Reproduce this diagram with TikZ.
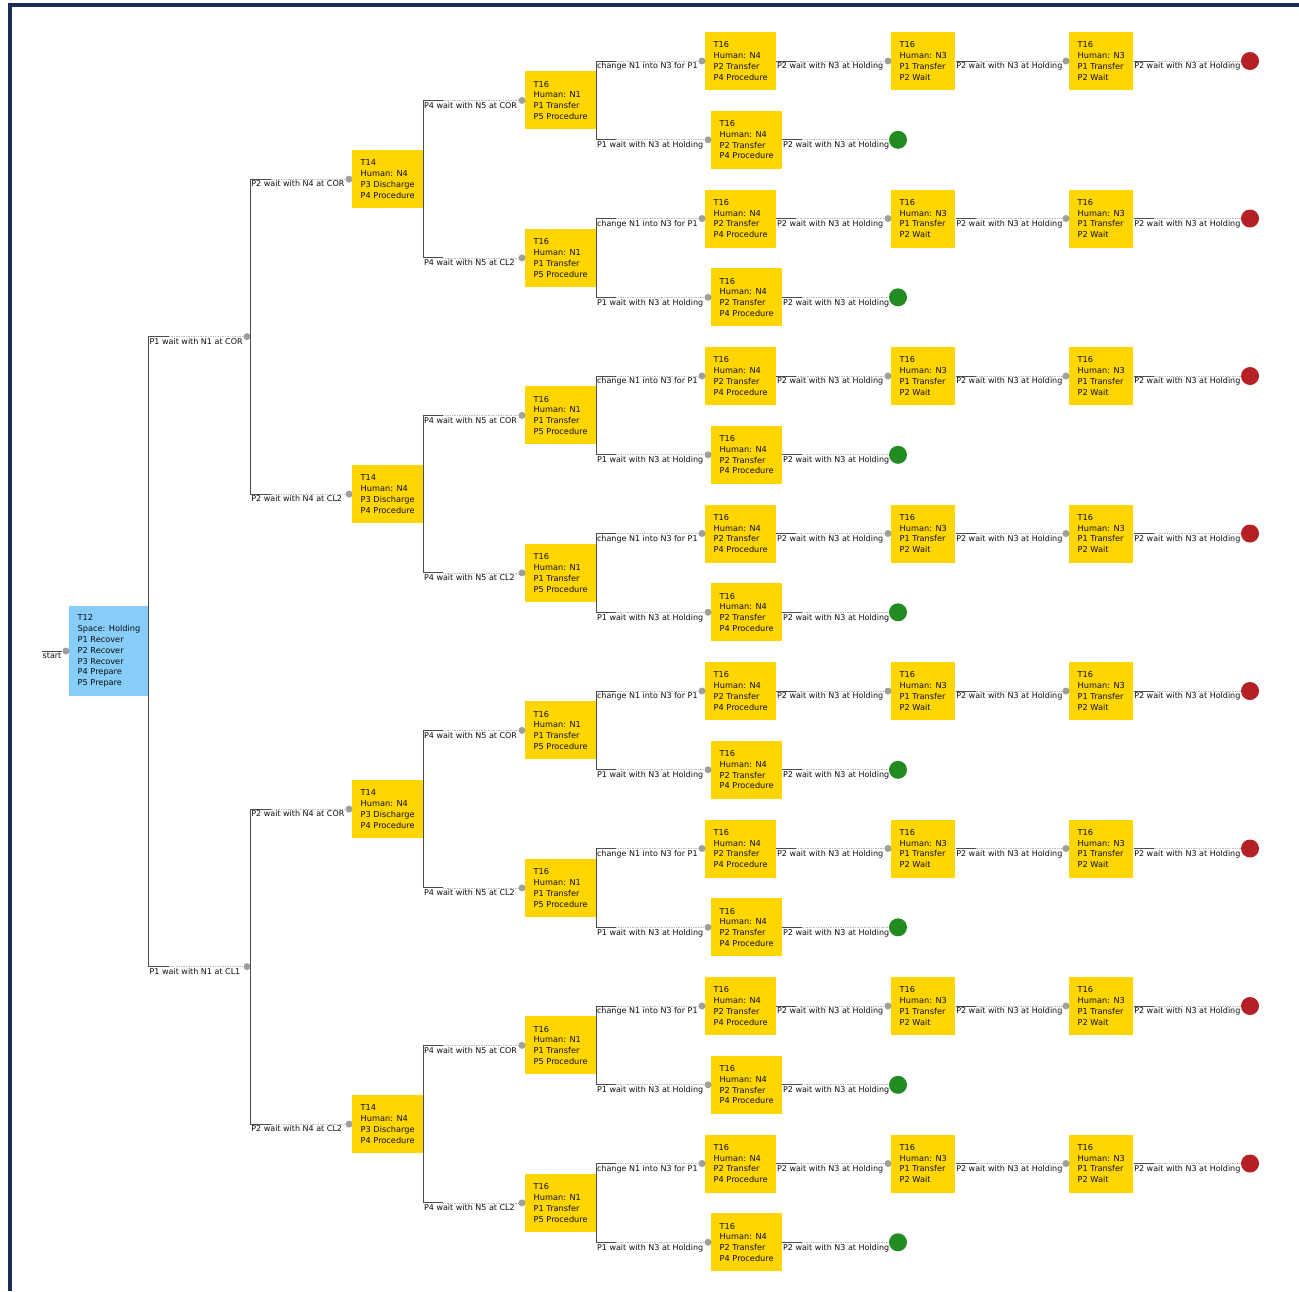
\documentclass[tikz,border=0pt]{standalone}
\usepackage{fontspec}
\setmainfont{DejaVu Sans}
\usetikzlibrary{calc}
\definecolor{taskyellow}{RGB}{255,214,0}
\definecolor{taskblue}{RGB}{135,205,250}
\definecolor{framenavy}{RGB}{27,45,82}
\definecolor{goodgreen}{RGB}{34,139,34}
\definecolor{badred}{RGB}{180,32,36}
\def\branch(#1)(#2)#3{%
  \draw[stub] (#1.east |- #1.center) -- (#1.east |- #2.center) -- ++(20,0) coordinate (stubend);
  \draw[trail] (stubend) -- (#2);
  \node[edgetext] at (#1.east |- #2.center) {#3};}
\tikzset{
  taskbox/.style={fill=taskyellow, anchor=west, align=left, text=black!95,
    inner xsep=8.5pt, inner ysep=8pt, minimum height=58pt,
    font=\fontsize{8.2}{10.8}\selectfont},
  joint/.style={circle, fill=gray!75, inner sep=0pt, minimum size=7pt},
  outcome/.style={circle, inner sep=0pt, minimum size=18pt},
  stub/.style={draw=black!70, line width=1pt},
  trail/.style={draw=gray!55, line width=0.7pt, dash pattern=on 0.7pt off 1pt},
  edgetext/.style={anchor=north west, inner xsep=0.5pt, inner ysep=1.5pt, text=black!95,
    font=\fontsize{8}{9}\selectfont}
}
\begin{document}
\begin{tikzpicture}[x=1pt,y=-1pt]
\useasboundingbox (0,0) rectangle (1299,1291);
% frame
\fill[framenavy] (8,3) rectangle (1299,7);
\fill[framenavy] (8,3) rectangle (12,1291);

% root
\node[taskbox, fill=taskblue, minimum height=90pt] (t12) at (69,651)
  {T12\\Space: Holding\\P1 Recover\\P2 Recover\\P3 Recover\\P4 Prepare\\P5 Prepare};
\node[joint] (p12) at ([xshift=-3pt]t12.west) {};
\coordinate (start) at (42,651);
\draw[stub] (start) -- (p12);
\node[edgetext] at (start) {start};

% first split
\node[joint] (pj0) at (247,336.6) {};
\node[joint] (pj1) at (247,966.6) {};
\branch(t12)(pj0){P1 wait with N1 at COR}
\branch(t12)(pj1){P1 wait with N1 at CL1}

% T14
\foreach \j/\m/\lbl in {0/0/COR,1/0/CL2,2/1/COR,3/1/CL2} {
  \node[taskbox] (ta\j) at (352,{179.1+315*\j}) {T14\\Human: N4\\P3 Discharge\\P4 Procedure};
  \node[joint] (pa\j) at ([xshift=-3pt]ta\j.west) {};
  \branch(pj\m)(pa\j){P2 wait with N4 at \lbl}
}

% T16 with N1
\foreach \k/\j/\lbl in {0/0/COR,1/0/CL2,2/1/COR,3/1/CL2,4/2/COR,5/2/CL2,6/3/COR,7/3/CL2} {
  \node[taskbox] (tb\k) at (525,{100.4+157.5*\k}) {T16\\Human: N1\\P1 Transfer\\P5 Procedure};
  \node[joint] (pb\k) at ([xshift=-3pt]tb\k.west) {};
  \branch(ta\j)(pb\k){P4 wait with N5 at \lbl}
}

% last levels, one group per T16 with N1
\foreach \k in {0,...,7} {
  \node[taskbox] (tc\k) at (705,{61+157.5*\k}) {T16\\Human: N4\\P2 Transfer\\P4 Procedure};
  \node[joint] (pc\k) at ([xshift=-3pt]tc\k.west) {};
  \node[taskbox] (td\k) at (711,{139.8+157.5*\k}) {T16\\Human: N4\\P2 Transfer\\P4 Procedure};
  \node[joint] (pd\k) at ([xshift=-3pt]td\k.west) {};
  \node[taskbox] (te\k) at (891,{61+157.5*\k}) {T16\\Human: N3\\P1 Transfer\\P2 Wait};
  \node[joint] (pe\k) at ([xshift=-3pt]te\k.west) {};
  \node[taskbox] (tf\k) at (1069,{61+157.5*\k}) {T16\\Human: N3\\P1 Transfer\\P2 Wait};
  \node[joint] (pf\k) at ([xshift=-3pt]tf\k.west) {};
  \node[outcome, fill=goodgreen] (ok\k) at (898,{139.8+157.5*\k}) {};
  \node[outcome, fill=badred] (bad\k) at (1250,{61+157.5*\k}) {};
  \branch(tb\k)(pc\k){change N1 into N3 for P1}
  \branch(tb\k)(pd\k){P1 wait with N3 at Holding}
  \branch(tc\k)(pe\k){P2 wait with N3 at Holding}
  \branch(te\k)(pf\k){P2 wait with N3 at Holding}
  \branch(tf\k)(bad\k){P2 wait with N3 at Holding}
  \branch(td\k)(ok\k){P2 wait with N3 at Holding}
}
\end{tikzpicture}
\end{document}
